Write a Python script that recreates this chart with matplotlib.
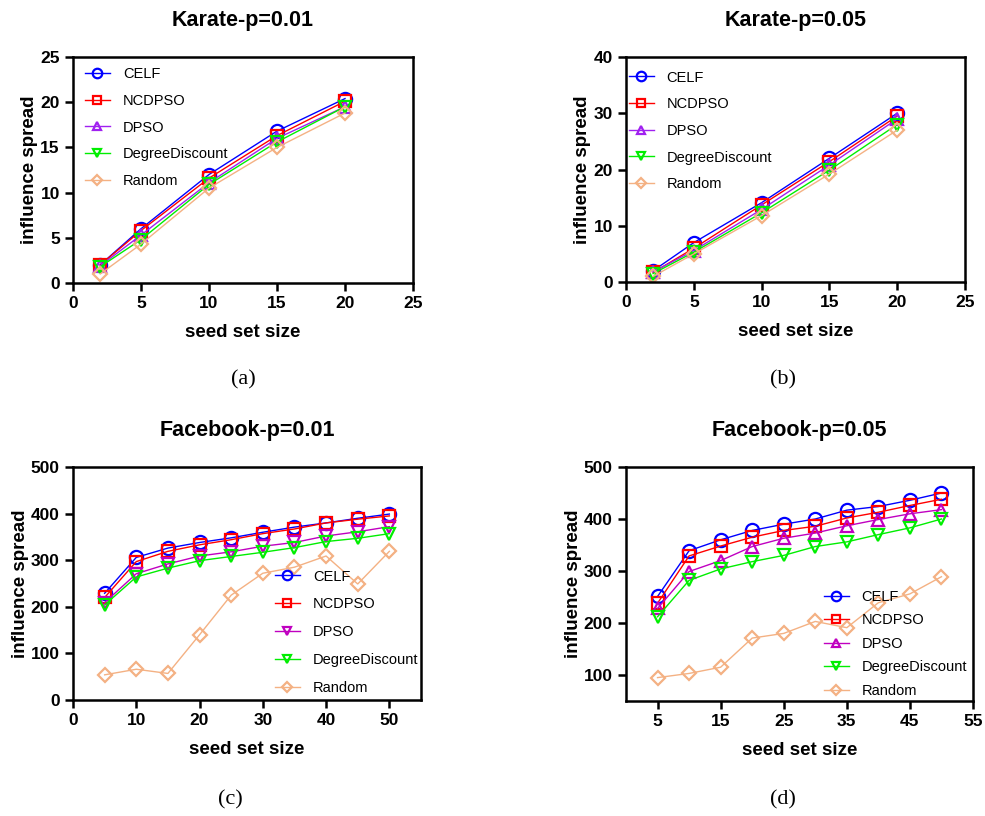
import numpy as np
from matplotlib import pyplot as plt

plt.rcParams['font.family'] = ['Liberation Sans', 'DejaVu Sans']

# Karate data
k_x = [2, 5, 10, 15, 20]
ka_celf = [2.0, 6.0, 12.0, 16.8, 20.4]
ka_ncdpso = [2.0, 5.8, 11.6, 16.3, 20.1]
ka_dpso = [1.9, 5.3, 11.1, 16.0, 19.5]
ka_dd = [1.8, 4.8, 10.9, 15.6, 19.5]
ka_rand = [1.0, 4.3, 10.5, 15.0, 18.8]

kb_celf = [2.0, 7.0, 14.1, 22.0, 30.0]
kb_ncdpso = [1.7, 6.0, 13.7, 21.4, 29.5]
kb_dpso = [1.8, 5.6, 12.9, 20.8, 29.0]
kb_dd = [1.5, 5.3, 12.3, 19.9, 28.0]
kb_rand = [1.0, 5.0, 11.8, 19.2, 27.0]

# Facebook data
f_x = [5, 10, 15, 20, 25, 30, 35, 40, 45, 50]
fc_celf = [229, 306, 326, 338, 348, 360, 371, 380, 390, 399]
fc_ncdpso = [220, 297, 319, 333, 344, 357, 367, 380, 388, 395]
fc_dpso = [209, 271, 292, 309, 318, 330, 338, 352, 361, 372]
fc_dd = [204, 264, 283, 299, 308, 317, 327, 340, 347, 357]
fc_rand = [54, 66, 57, 140, 225, 272, 285, 309, 249, 319]

fd_celf = [251, 339, 360, 378, 390, 400, 417, 424, 436, 450]
fd_ncdpso = [238, 329, 348, 365, 378, 386, 402, 413, 426, 438]
fd_dpso = [228, 299, 320, 347, 363, 373, 387, 399, 410, 418]
fd_dd = [212, 282, 304, 318, 330, 347, 356, 370, 383, 400]
fd_rand = [95, 103, 115, 171, 180, 203, 191, 239, 256, 289]

labels = ['CELF', 'NCDPSO', 'DPSO', 'DegreeDiscount', 'Random']

W, H = 985, 816
fig = plt.figure(figsize=(W / 100, H / 100), dpi=100)


def add_ax(l, r, t, b):
    return fig.add_axes([l / W, 1 - b / H, (r - l) / W, (b - t) / H])


def draw(ax, x, series, dpso_marker, dpso_color, title, xlim, xticks, ylim, yticks,
         leg_anchor, leg_spacing):
    colors = ['#0000ff', '#ff0000', dpso_color, '#00ee00', '#f4b183']
    markers = ['o', 's', dpso_marker, 'v', 'D']
    sizes = [9.5, 8.5, 8.5, 8.5, 7]
    for y, lab, c, m, s in zip(series, labels, colors, markers, sizes):
        ax.plot(x, y, color=c, marker=m, markersize=s, markerfacecolor='none',
                markeredgewidth=1.6, linewidth=1.0, label=lab)
    ax.set_xlim(xlim)
    ax.set_ylim(ylim)
    ax.set_xticks(xticks)
    ax.set_yticks(yticks)
    for sp in ax.spines.values():
        sp.set_linewidth(1.8)
    ax.tick_params(direction='out', length=6, width=1.8, labelsize=12.5)
    for lbl in ax.get_xticklabels() + ax.get_yticklabels():
        lbl.set_fontweight('bold')
    ax.set_title(title, fontsize=15.5, fontweight='bold', pad=22)
    ax.set_xlabel('seed set size', fontsize=13.5, fontweight='bold', labelpad=9)
    ax.set_ylabel('influence spread', fontsize=13.5, fontweight='bold', labelpad=1.5)
    ax.legend(loc='upper left', bbox_to_anchor=leg_anchor, frameon=False,
              fontsize=10.5, handlelength=1.7, handletextpad=0.9,
              labelspacing=leg_spacing, borderpad=0, borderaxespad=0,
              markerscale=0.72)


ax_a = add_ax(73, 413, 57, 283)
draw(ax_a, k_x, [ka_celf, ka_ncdpso, ka_dpso, ka_dd, ka_rand], '^', '#a020f0',
     'Karate-p=0.01', (0, 25), [0, 5, 10, 15, 20, 25], (0, 25), [0, 5, 10, 15, 20, 25],
     (0.035, 0.955), 0.87)

ax_b = add_ax(626, 965, 57, 282)
draw(ax_b, k_x, [kb_celf, kb_ncdpso, kb_dpso, kb_dd, kb_rand], '^', '#a020f0',
     'Karate-p=0.05', (0, 25), [0, 5, 10, 15, 20, 25], (0, 40), [0, 10, 20, 30, 40],
     (0.008, 0.94), 0.87)

ax_c = add_ax(73, 421, 467, 700)
draw(ax_c, f_x, [fc_celf, fc_ncdpso, fc_dpso, fc_dd, fc_rand], 'v', '#c000c0',
     'Facebook-p=0.01', (0, 55), [0, 10, 20, 30, 40, 50], (0, 500), [0, 100, 200, 300, 400, 500],
     (0.58, 0.56), 0.95)

ax_d = add_ax(626, 973, 467, 701)
draw(ax_d, f_x, [fd_celf, fd_ncdpso, fd_dpso, fd_dd, fd_rand], '^', '#c000c0',
     'Facebook-p=0.05', (0, 55), [5, 15, 25, 35, 45, 55], (50, 500), [100, 200, 300, 400, 500],
     (0.57, 0.475), 0.65)

for cap, cx, cy in [('(a)', 243, 380), ('(b)', 783, 380), ('(c)', 230, 800), ('(d)', 783, 800)]:
    fig.text(cx / W, 1 - cy / H, cap, fontsize=16, family='Liberation Serif',
             ha='center', va='center')

plt.savefig('out.png', dpi=100)
